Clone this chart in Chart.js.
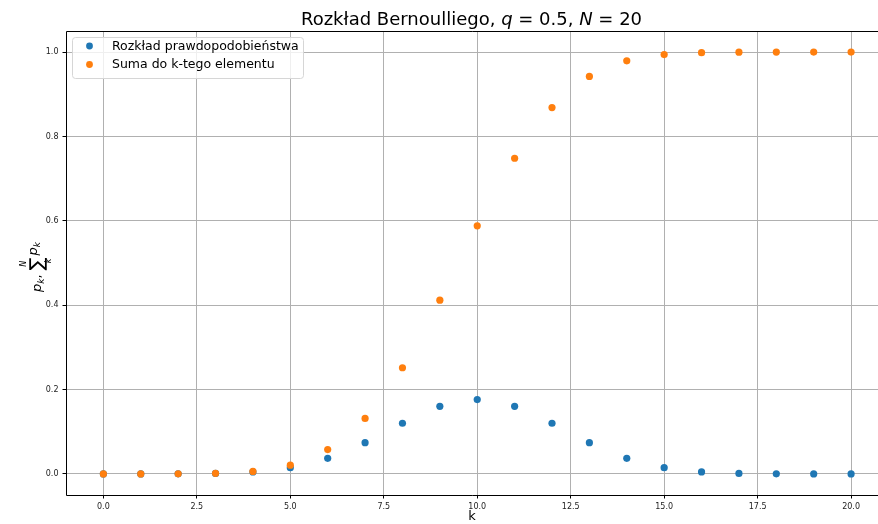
<!DOCTYPE html>
<html><head><meta charset="utf-8">
<script src="https://cdn.jsdelivr.net/npm/chart.js@4/dist/chart.umd.min.js"></script>
<style>html,body{margin:0;padding:0;background:#fff;overflow:hidden}canvas{display:block}</style>
</head><body>
<canvas id="c" width="878" height="524"></canvas>
<script>
const kValues = [0,1,2,3,4,5,6,7,8,9,10,11,12,13,14,15,16,17,18,19,20];
const probValues = [0.000001,0.000019,0.000181,0.001087,0.004621,0.014786,0.036964,0.073929,0.120134,0.160179,0.176197,0.160179,0.120134,0.073929,0.036964,0.014786,0.004621,0.001087,0.000181,0.000019,0.000001];
const cumValues = [0.000001,0.00002,0.000201,0.001288,0.005909,0.020695,0.057659,0.131588,0.251722,0.411901,0.588099,0.748278,0.868412,0.942341,0.979305,0.994091,0.998712,0.999799,0.99998,0.999999,1.0];
const xTicks = [0,2.5,5,7.5,10,12.5,15,17.5,20];
const yTicks = [0,0.2,0.4,0.6,0.8,1.0];
const seriesLabels = ['Rozkład prawdopodobieństwa','Suma do k-tego elementu'];
const FONT = "'DejaVu Sans', sans-serif";

const overlay = {
  id:'overlay',
  afterDraw(chart){
    const ctx = chart.ctx, a = chart.chartArea;
    ctx.save();
    // spines (right spine lies outside the visible figure)
    ctx.strokeStyle='#000'; ctx.lineWidth=1;
    const L=Math.round(a.left)+0.5, T=Math.round(a.top)+0.5, B=Math.round(a.bottom)+0.5, R=a.right+2;
    ctx.beginPath(); ctx.moveTo(R,T); ctx.lineTo(L,T); ctx.lineTo(L,B); ctx.lineTo(R,B); ctx.stroke();
    // title
    const parts=[["Rozkład Bernoulliego, ",""],["q","italic "],[" = 0.5, ",""],["N","italic "],[" = 20",""]];
    let total=0;
    parts.forEach(p=>{ctx.font=p[1]+"18px "+FONT; total+=ctx.measureText(p[0]).width;});
    let x=471.5 - total/2;
    ctx.fillStyle='#000'; ctx.textBaseline='alphabetic'; ctx.textAlign='left';
    parts.forEach(p=>{ctx.font=p[1]+"18px "+FONT; ctx.fillText(p[0],x,25); x+=ctx.measureText(p[0]).width;});
    // y label
    ctx.save();
    ctx.translate(41,267); ctx.rotate(-Math.PI/2);
    function w(t,f){ctx.font=f;return ctx.measureText(t).width;}
    const fP="italic 13px "+FONT, fS="italic 9px "+FONT, fN="13px "+FONT, fSig="19px "+FONT, fSm="italic 8px "+FONT;
    let tw = w("p",fP)+w("k",fS)+w(", ",fN)+w("∑",fSig)+2+w("p",fP)+w("k",fS);
    let lx=-tw/2;
    ctx.font=fP; ctx.fillText("p",lx,0); lx+=w("p",fP);
    ctx.font=fS; ctx.fillText("k",lx,3); lx+=w("k",fS);
    ctx.font=fN; ctx.fillText(", ",lx,0); lx+=w(", ",fN);
    const sw=w("∑",fSig);
    ctx.font=fSig; ctx.fillText("∑",lx,2);
    ctx.font=fSm; ctx.textAlign='center';
    ctx.fillText("N",lx+sw/2,-15); ctx.fillText("k",lx+sw/2+3,10);
    ctx.textAlign='left';
    lx+=sw+2;
    ctx.font=fP; ctx.fillText("p",lx,-4); lx+=w("p",fP);
    ctx.font=fS; ctx.fillText("k",lx,-1);
    ctx.restore();
    // legend
    const lx0=72.5, ly0=37.5, lw=231, lh=41, r=3;
    ctx.beginPath();
    ctx.moveTo(lx0+r,ly0); ctx.arcTo(lx0+lw,ly0,lx0+lw,ly0+lh,r); ctx.arcTo(lx0+lw,ly0+lh,lx0,ly0+lh,r);
    ctx.arcTo(lx0,ly0+lh,lx0,ly0,r); ctx.arcTo(lx0,ly0,lx0+lw,ly0,r); ctx.closePath();
    ctx.fillStyle='rgba(255,255,255,0.8)'; ctx.fill();
    ctx.strokeStyle='#d6d6d6'; ctx.lineWidth=1; ctx.stroke();
    chart.data.datasets.forEach((ds,i)=>{
      const yy=46+i*18.5;
      ctx.beginPath(); ctx.arc(89.5,yy,3.4,0,Math.PI*2); ctx.fillStyle=ds.backgroundColor; ctx.fill();
      ctx.fillStyle='#000'; ctx.font="12.5px "+FONT; ctx.textBaseline='middle';
      ctx.fillText(ds.label,112,yy+0.5);
    });
    ctx.restore();
  }
};

new Chart(document.getElementById('c'),{
  type:'scatter',
  data:{datasets:[
    {label:seriesLabels[0],data:kValues.map((k,i)=>({x:k,y:probValues[i]})),backgroundColor:'#1f77b4',borderColor:'#1f77b4',pointRadius:3.6,pointBorderWidth:0,order:2},
    {label:seriesLabels[1],data:kValues.map((k,i)=>({x:k,y:cumValues[i]})),backgroundColor:'#ff7f0e',borderColor:'#ff7f0e',pointRadius:3.6,pointBorderWidth:0,order:1}
  ]},
  options:{
    responsive:false, animation:false,
    layout:{autoPadding:false,padding:{top:31,right:0,left:0,bottom:0}},
    plugins:{legend:{display:false},tooltip:{enabled:false},title:{display:false}},
    scales:{
      x:{type:'linear',min:-1,max:20.72,
        afterBuildTicks(s){s.ticks=xTicks.map(v=>({value:v}));},
        afterFit(s){s.height=29;s.paddingLeft=0;s.paddingRight=0;},
        ticks:{callback:v=>Number(v).toFixed(1),font:{size:8,family:FONT},color:'#222',padding:4,maxRotation:0,autoSkip:false},
        grid:{color:'#b0b0b0',lineWidth:1,tickColor:'#000',tickLength:3.5},
        border:{display:false},
        title:{display:true,text:'k',font:{size:13,family:FONT},color:'#000',padding:{top:0,bottom:0}}
      },
      y:{type:'linear',min:-0.05,max:1.05,
        afterBuildTicks(s){s.ticks=yTicks.map(v=>({value:v}));},
        afterFit(s){s.width=66;s.paddingTop=0;s.paddingBottom=0;},
        ticks:{callback:v=>Number(v).toFixed(1),font:{size:8,family:FONT},color:'#222',padding:4,autoSkip:false},
        grid:{color:'#b0b0b0',lineWidth:1,tickColor:'#000',tickLength:3.5},
        border:{display:false}
      }
    }
  },
  plugins:[overlay]
});
</script>
</body></html>
